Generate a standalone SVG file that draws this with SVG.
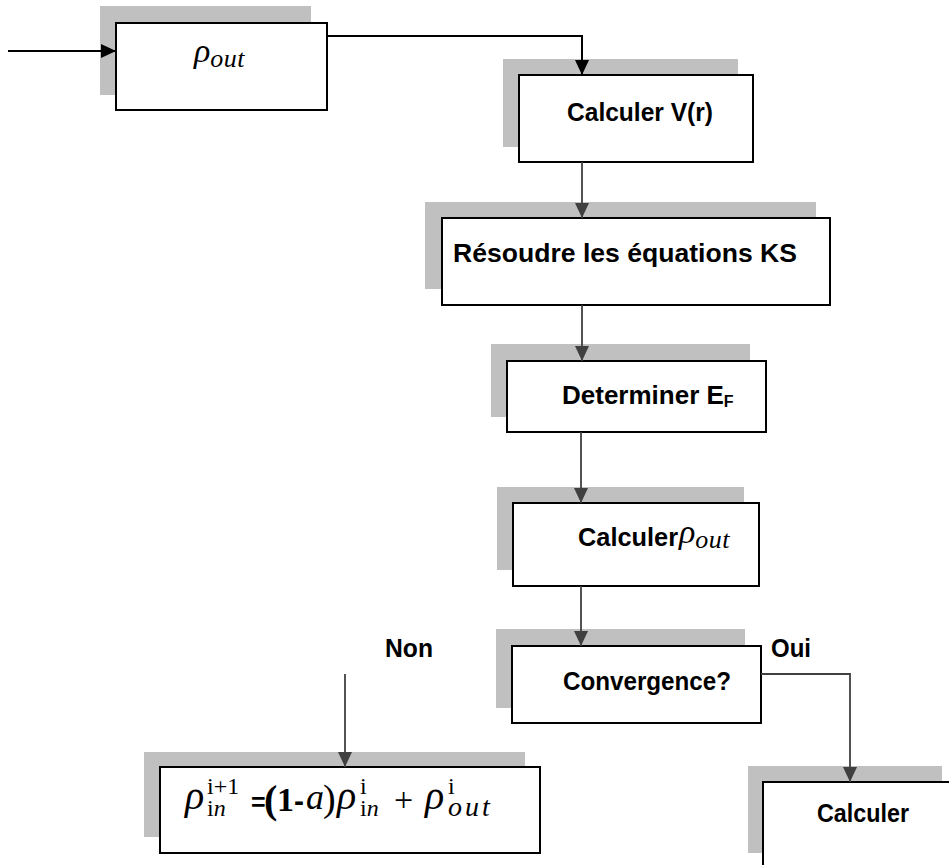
<svg xmlns="http://www.w3.org/2000/svg" width="949" height="865" viewBox="0 0 949 865">
<style>
.sh{fill:#c0c0c0;stroke:none}
.bx{fill:#ffffff;stroke:#000000;stroke-width:2}
.lbl{font-family:"Liberation Sans",Arial,sans-serif;font-weight:bold;font-size:26px;fill:#000000}
.m{font-family:"Liberation Serif","DejaVu Serif",serif;font-style:italic;fill:#000000}
.mu{font-family:"Liberation Serif","DejaVu Serif",serif;font-style:normal;font-weight:normal;fill:#000000}
.it{font-style:italic}
.bs{font-family:"Liberation Sans",Arial,sans-serif;font-weight:bold;font-style:normal}
.bm{font-weight:bold;font-style:normal}
.c1{fill:none;stroke:#000000;stroke-width:2}
.c2{fill:none;stroke:#404040;stroke-width:1.8}
</style>
<defs>
<marker id="ahb" markerUnits="userSpaceOnUse" markerWidth="15" markerHeight="14" refX="15" refY="7" orient="auto"><path d="M0,0 L15,7 L0,14 z" fill="#000000"/></marker>
<marker id="ahg" markerUnits="userSpaceOnUse" markerWidth="15" markerHeight="14" refX="15" refY="7" orient="auto"><path d="M0,0 L15,7 L0,14 z" fill="#404040"/></marker>
</defs>
<g id="n1">
<rect class="sh" x="100" y="6" width="211" height="89"/>
<rect class="bx" x="116" y="23" width="211" height="87"/>
<text class="m" x="194" y="62" font-size="34">ρ<tspan font-size="26" dy="5" letter-spacing="0.5">out</tspan></text>
</g>
<g id="n2">
<rect class="sh" x="503" y="59" width="235" height="88"/>
<rect class="bx" x="519" y="75" width="234" height="87"/>
<text class="lbl" x="567" y="121" textLength="146" lengthAdjust="spacingAndGlyphs">Calculer V(r)</text>
</g>
<g id="n3">
<rect class="sh" x="425" y="202" width="391" height="87"/>
<rect class="bx" x="442" y="218" width="388" height="87"/>
<text class="lbl" x="453" y="262" textLength="344" lengthAdjust="spacingAndGlyphs">Résoudre les équations KS</text>
</g>
<g id="n4">
<rect class="sh" x="491" y="344" width="259" height="73"/>
<rect class="bx" x="507" y="361" width="259" height="71"/>
<text class="lbl" x="562" y="404">Determiner E<tspan font-size="16" dy="3">F</tspan></text>
</g>
<g id="n5">
<rect class="sh" x="497" y="487" width="247" height="83"/>
<rect class="bx" x="513" y="503" width="246" height="83"/>
<text class="lbl" x="578" y="546"><tspan textLength="100" lengthAdjust="spacingAndGlyphs">Calculer</tspan><tspan class="m" x="679" y="543" font-size="34" font-weight="normal">ρ</tspan><tspan class="m" font-size="26" font-weight="normal" dy="5" letter-spacing="0.5">out</tspan></text>
</g>
<g id="n6">
<rect class="sh" x="496" y="629" width="249" height="79"/>
<rect class="bx" x="512" y="646" width="249" height="77"/>
<text class="lbl" x="563" y="690" textLength="168" lengthAdjust="spacingAndGlyphs">Convergence?</text>
</g>
<g id="n7">
<rect class="sh" x="144" y="752" width="381" height="85"/>
<rect class="bx" x="160" y="767" width="380" height="86"/>
<text class="mu" font-size="24"><tspan class="it" x="185" y="809" font-size="40">ρ</tspan><tspan x="207" y="794">i+1</tspan><tspan x="207" y="816">i</tspan><tspan class="it">n</tspan><tspan class="bs" x="251" y="811" font-size="25">=</tspan><tspan class="bm" x="264" y="813" font-size="40">(</tspan><tspan class="bm" x="277" y="811" font-size="34">1</tspan><tspan class="bs" x="294" y="811" font-size="30">-</tspan><tspan class="it" x="306" y="809" font-size="36">a</tspan><tspan x="323" y="811" font-size="38">)</tspan><tspan class="it" x="337" y="809" font-size="40">ρ</tspan><tspan x="360" y="794">i</tspan><tspan x="360" y="816">i</tspan><tspan class="it">n</tspan><tspan x="394" y="811" font-size="34">+</tspan><tspan class="it" x="425" y="809" font-size="40">ρ</tspan><tspan x="448" y="794">i</tspan><tspan class="it" x="448" y="816" font-size="28" letter-spacing="3">out</tspan></text>
</g>
<g id="n8">
<rect class="sh" x="748" y="766" width="194" height="87"/>
<rect class="bx" x="763" y="782" width="200" height="100"/>
<text class="lbl" x="817" y="822" textLength="92" lengthAdjust="spacingAndGlyphs">Calculer</text>
</g>
<g id="labels">
<text class="lbl" x="385" y="657" textLength="48" lengthAdjust="spacingAndGlyphs">Non</text>
<text class="lbl" x="771" y="657" textLength="40" lengthAdjust="spacingAndGlyphs">Oui</text>
</g>
<g id="connectors">
<line class="c1" x1="8" y1="51" x2="116" y2="51" marker-end="url(#ahb)"/>
<polyline class="c1" points="327,36 582,36 582,75" marker-end="url(#ahb)"/>
<line class="c2" x1="582" y1="162" x2="582" y2="218" marker-end="url(#ahg)"/>
<line class="c2" x1="582" y1="305" x2="582" y2="361" marker-end="url(#ahg)"/>
<line class="c2" x1="581" y1="432" x2="581" y2="503" marker-end="url(#ahg)"/>
<line class="c2" x1="581" y1="586" x2="581" y2="646" marker-end="url(#ahg)"/>
<line class="c2" x1="345" y1="674" x2="345" y2="767" marker-end="url(#ahg)"/>
<polyline class="c2" points="761,674 850,674 850,782" marker-end="url(#ahg)"/>
</g>
</svg>
